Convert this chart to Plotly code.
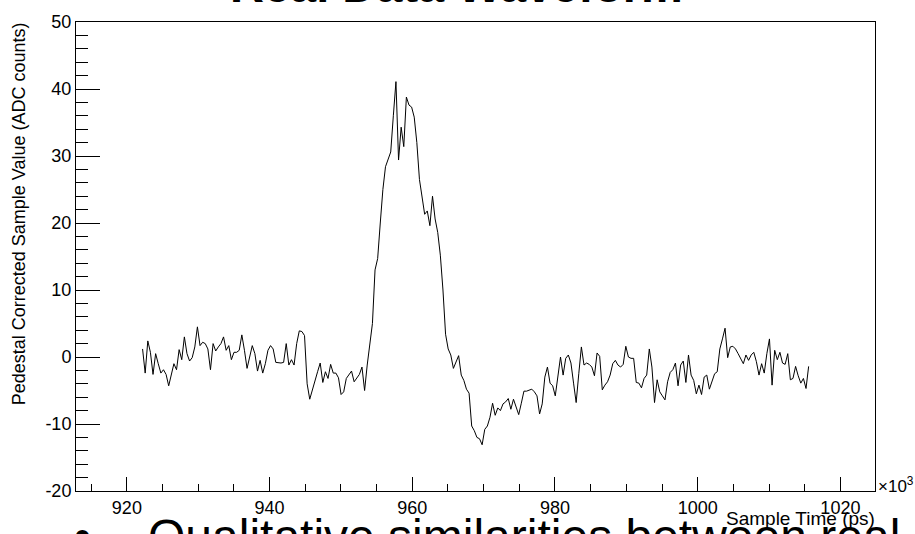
import plotly.graph_objects as go

# ---- data (ADC counts, one value per sample) ----
baseline_pre = [
    1.2, -2.4, 2.4, 0.7, -2.6, 0.5, -1.0, -2.4, -1.9, -2.6,
    -4.3, -2.8, -1.0, -1.9, 1.1, -0.4, 3.0, 0.5, -0.6, -0.1,
    1.5, 4.5, 1.7, 2.2, 2.0, 1.2, -1.9, 2.0, 0.9, 1.5,
    2.0, 3.0, 1.0, 1.7, -0.4, 0.7, 0.7, 1.0, 3.3, 1.0,
    -1.7, 0.0, 1.7, 0.5, -2.1, -0.5, -2.4, -1.0, 1.0, 1.7,
    1.2, -0.8, -0.9, -0.9, -0.8, 2.0, -1.2, -0.4, -1.2, 2.0,
    3.9, 3.8, 3.2,
    -4.0, -6.3, -4.8, -3.4, -2.2, -0.9, -3.8, -2.2, -3.2, -1.1,
    -2.4, -2.4, -3.1, -5.6, -5.2, -3.2, -2.6, -2.1, -3.7, -3.2,
    -2.6, -1.5,
]
pulse = [
    -5.0, -1.2, 2.0, 5.0, 13.0, 14.7, 20.0, 25.0, 28.4, 29.4,
    30.6, 36.0, 41.1, 29.4, 34.3, 31.4, 38.8, 37.6, 37.3, 35.8,
    32.0, 26.5, 23.8, 21.3, 21.8, 19.6, 24.0, 20.6, 18.6, 15.2,
    10.0, 3.4, 1.2, 0.3, -1.7, -0.8, 0.2, -2.7, -3.5, -4.8,
    -5.4,
]
undershoot = [
    -10.3, -11.0, -12.0, -12.2, -13.1, -10.8, -10.3, -9.0, -6.9, -8.7,
    -7.6, -8.0, -7.0, -6.7, -6.2, -7.8, -6.3, -7.3, -8.6, -6.9,
    -5.1, -5.1, -5.0, -4.8, -5.2, -5.8, -8.5, -7.0, -3.0, -1.5,
    -3.9, -4.3, -5.8, -3.0, 0.0,
]
baseline_post = [
    -2.7, -0.2, 0.3, -0.9, -3.9, -6.8, -2.5, 1.5, -1.2, -0.9,
    -1.1, -1.5, -2.8, 0.6, 0.1, -4.9, -4.2, -3.7, -2.7, -1.0,
    -0.5, -1.2, -1.5, -1.1, 1.6, 0.0, -0.2, -0.2, -3.8, -3.9,
    -4.6, -3.2, -2.7, 1.2, -1.5, -6.8, -3.4, -5.2, -5.8, -6.4,
    -3.7, -2.3, -1.9, -0.9, -4.3, -1.2, -0.6, -3.8, 0.3, -2.7,
    -3.5, -5.5, -4.2, -5.6, -3.0, -2.7, -4.8, -3.8, -2.5, -2.2,
    1.2, 2.7, 4.3, -0.1, 1.5, 1.6, 1.2, 0.5, -0.2, -1.0,
    0.3, -0.5, 0.3, 0.7, -0.7, -2.7, -1.0, -2.4, 0.5, 2.7,
    -4.2, 1.0, -0.4, 0.7, -0.9, -1.1, 0.5, -3.4, -3.2, -1.4,
    -2.8, -3.9, -3.2, -4.7, -1.4,
]
adc = baseline_pre + pulse + undershoot + baseline_post

# sample times (ps x 10^3): first and last sample, evenly spaced
t_first = 922.2
t_last = 1015.55
n = len(adc)
dt = (t_last - t_first) / (n - 1)
times = [t_first + i * dt for i in range(n)]

x_range = [912.87, 1024.85]
y_range = [-20, 50]
x_ticks = [920, 940, 960, 980, 1000, 1020]
y_ticks = [-20, -10, 0, 10, 20, 30, 40, 50]

FONT = "Arial, 'Liberation Sans', Helvetica, sans-serif"

fig = go.Figure()
fig.add_trace(go.Scatter(
    x=times, y=adc, mode="lines",
    line=dict(color="black", width=1),
    hoverinfo="skip",
))

# plot area in pixels
L, R, T, B = 76, 875, 13, 491
W, H = 915, 534


def px(xp):
    return (xp - L) / (R - L)


def py(yp):
    return (B - yp) / (B - T)


axis_common = dict(
    showline=True, linecolor="black", linewidth=1, mirror=True,
    ticks="inside", tickcolor="black", tickwidth=1,
    showgrid=False, zeroline=False,
    tickfont=dict(family=FONT, size=18, color="black"),
)

fig.update_layout(
    width=W, height=H,
    margin=dict(l=L, r=W - R, t=T, b=H - B),
    paper_bgcolor="white", plot_bgcolor="white",
    showlegend=False,
    font=dict(family=FONT, color="black"),
    xaxis=dict(
        range=x_range, tickmode="array", tickvals=x_ticks,
        ticktext=[str(v) for v in x_ticks], ticklen=14,
        minor=dict(ticks="inside", ticklen=7, dtick=5, tick0=0,
                   tickcolor="black", showgrid=False),
        **axis_common,
    ),
    yaxis=dict(
        range=y_range, tickmode="array", tickvals=y_ticks,
        ticktext=[str(v) for v in y_ticks], ticklen=24,
        minor=dict(ticks="inside", ticklen=12, dtick=2, tick0=0,
                   tickcolor="black", showgrid=False),
        **axis_common,
    ),
)

annotations = [
    # title (cut off at top)
    dict(text="<b>Real Data Waveform</b>", x=px(456), y=py(5),
         xanchor="center", yanchor="bottom",
         font=dict(family=FONT, size=47, color="black")),
    # y axis title, right aligned to the top
    dict(text="Pedestal Corrected Sample Value (ADC counts)",
         x=px(18.8), y=py(11), xanchor="center", yanchor="top",
         textangle=-90, font=dict(family=FONT, size=18, color="black")),
    # x axis title, right aligned
    dict(text="Sample Time (ps)", x=px(877), y=py(532),
         xanchor="right", yanchor="bottom",
         font=dict(family=FONT, size=19, color="black")),
    # exponent
    dict(text="×10<sup>3</sup>", x=px(876), y=py(498),
         xanchor="left", yanchor="bottom",
         font=dict(family=FONT, size=17, color="black")),
    # slide text below
    dict(text="•", x=px(82), y=py(507), xanchor="center", yanchor="top",
         font=dict(family=FONT, size=48, color="black")),
    dict(text="Qualitative similarities between real", x=px(145.6), y=py(508),
         xanchor="left", yanchor="top",
         font=dict(family=FONT, size=48, color="black")),
]
for a in annotations:
    a.update(xref="paper", yref="paper", showarrow=False)
fig.update_layout(annotations=annotations)

fig.write_html("out.html")
